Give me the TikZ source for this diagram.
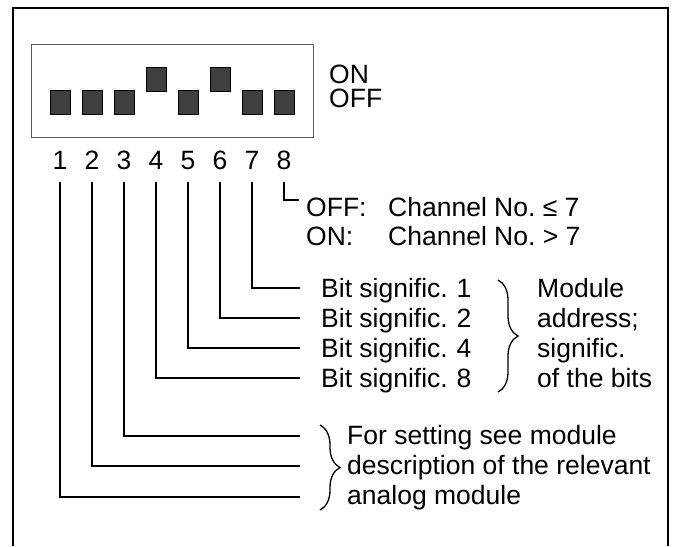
\documentclass[tikz,border=0pt]{standalone}
\usepackage{fontspec}
\setmainfont{Liberation Sans}
\usetikzlibrary{positioning,calc,decorations.pathreplacing}
\definecolor{levercolor}{RGB}{64,64,64}
\definecolor{housingcolor}{RGB}{90,90,90}

\begin{document}
\begin{tikzpicture}[x=1pt,y=-1pt,
  txt/.style={anchor=base west,inner sep=0pt,font=\fontsize{26.5}{30}\selectfont},
  wire/.style={line width=2pt},
  lever/.style={draw=black,line width=0.6pt,fill=levercolor,
    minimum width=20pt,minimum height=24pt,inner sep=0pt},
  curly/.style={decorate,decoration={brace,amplitude=#1},line width=1.3pt}]

\useasboundingbox (0,0) rectangle (677,546);

% ---- Outer frame (open at the bottom) ----
\draw[line width=2pt] (13,546) -- (13,8) -- (668,8) -- (668,546);

% ---- DIP switch housing ----
\node[draw=housingcolor,line width=1pt,minimum width=282pt,
  minimum height=93pt,inner sep=0pt] (dip) at (172,90.5) {};

% ---- Levers (up = ON) ----
\foreach \k/\y in {1/102,2/102,3/102,4/79,5/102,6/79,7/102,8/102} {
  \node[lever] (sw\k) at ({60+32*(\k-1)},\y) {};
}
\node[txt] (on) at (329,83) {ON};
\node[txt] (off) at (329,107) {OFF};

% ---- Switch numbers ----
\foreach \k in {1,...,8} {
  \node[txt,anchor=base] (n\k) at ({60+32*(\k-1)},169) {\k};
}

% ---- Switch 8: channel range ----
\coordinate (e8) at (299,200);
\draw[wire] ([yshift=-13pt]n8.south) |- (e8);
\node[txt] (offtag) at (306,216) {OFF:};
\node[txt] (offchan) at (388,216) {Channel No.~≤ 7};
\node[txt] (ontag) at (306,245) {ON:};
\node[txt] (onchan) at (388,245) {Channel No.~> 7};

% ---- Switches 4 to 7: module address ----
\foreach \k/\v/\y in {7/1/288,6/2/318,5/4/348,4/8/378} {
  \coordinate (e\k) at (300,\y);
  \draw[wire] ([yshift=-13pt]n\k.south) |- (e\k);
  \node[txt] (bit\v) at (321,\y+9.5) {Bit signific.};
  \node[txt,anchor=base] (val\v) at (464,\y+9.5) {\v};
}
\draw[curly=20pt] (498,280) -- (498,392);
\foreach \word/\y [count=\i] in {Module/297.5,address;/327.5,signific./357.5,of the bits/387.5} {
  \node[txt] (mod\i) at (537,\y) {\word};
}

% ---- Switches 1 to 3: analog module ----
\foreach \k/\y in {3/436,2/466,1/497} {
  \coordinate (e\k) at (300,\y);
  \draw[wire] ([yshift=-13pt]n\k.south) |- (e\k);
}
\draw[curly=20pt] (320,425) -- (320,510);
\node[txt] (set1) at (347,444.5) {For setting see module};
\node[txt] (set2) at (347,474.5) {description of the relevant};
\node[txt] (set3) at (347,504.5) {analog module};

\end{tikzpicture}
\end{document}
